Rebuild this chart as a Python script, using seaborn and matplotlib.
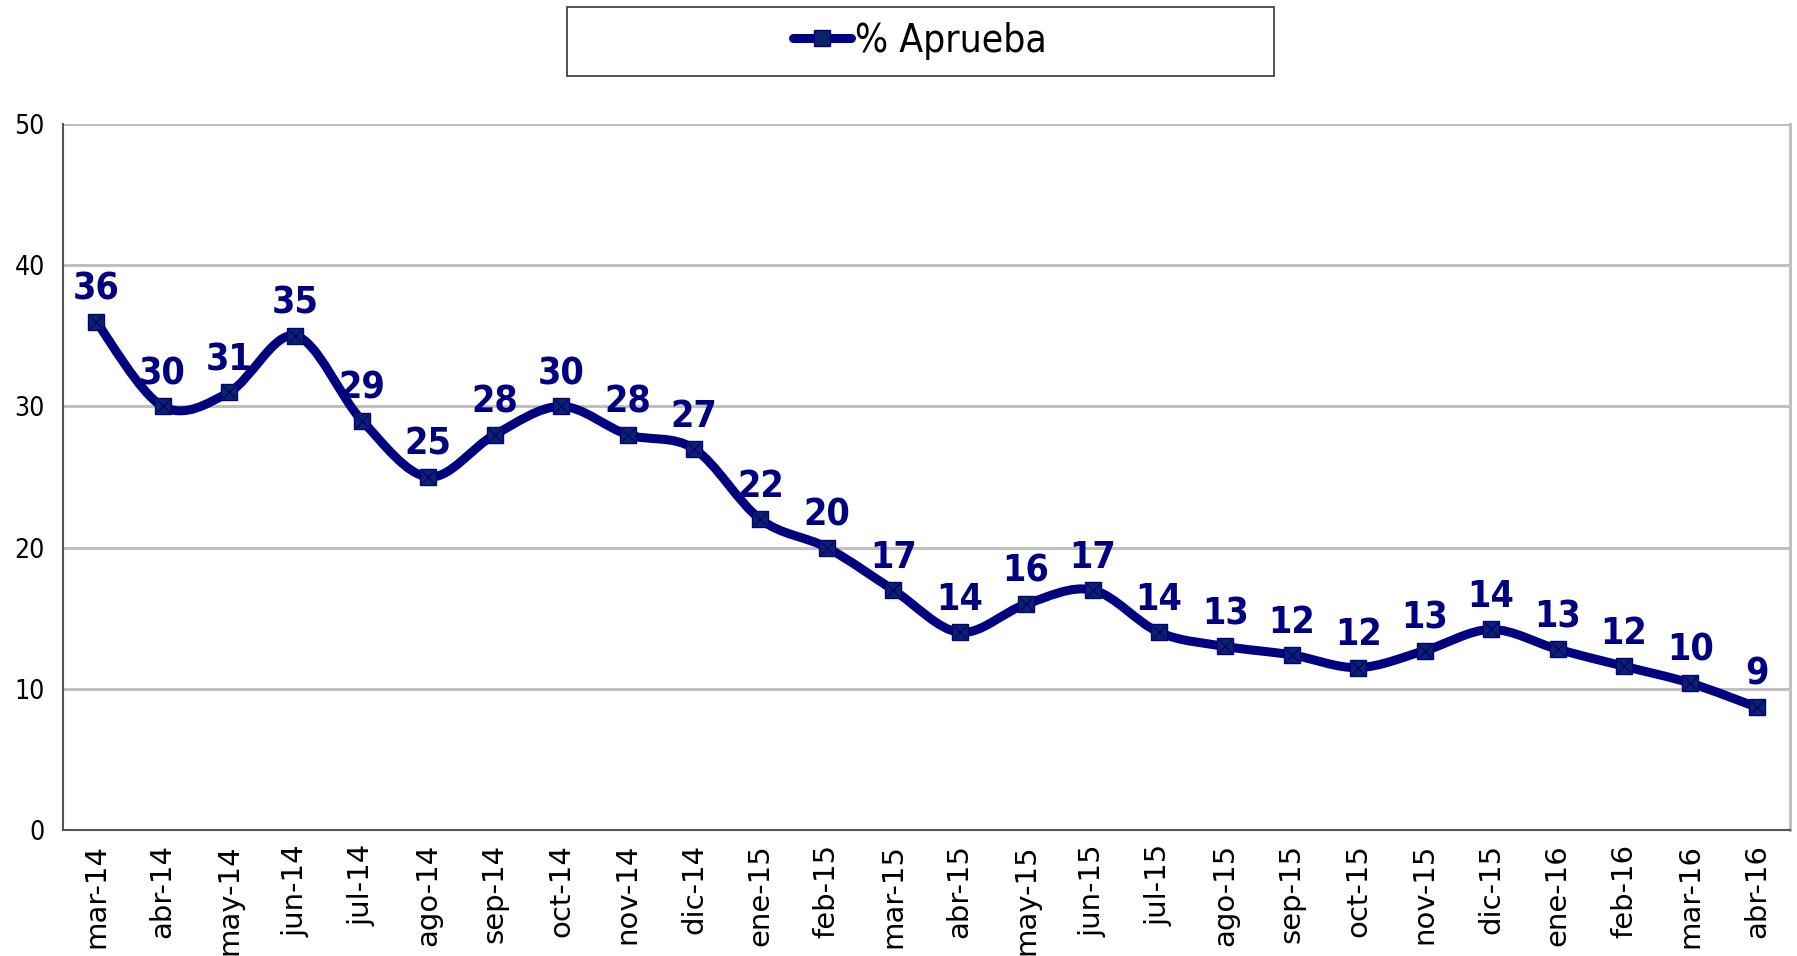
import numpy as np
import pandas as pd
import matplotlib
matplotlib.use("Agg")
import matplotlib.pyplot as plt
from matplotlib.path import Path
from matplotlib.patches import PathPatch, Rectangle
from matplotlib.lines import Line2D
import seaborn as sns

months = ["mar-14", "abr-14", "may-14", "jun-14", "jul-14", "ago-14", "sep-14",
          "oct-14", "nov-14", "dic-14", "ene-15", "feb-15", "mar-15", "abr-15",
          "may-15", "jun-15", "jul-15", "ago-15", "sep-15", "oct-15", "nov-15",
          "dic-15", "ene-16", "feb-16", "mar-16", "abr-16"]
aprueba = [36, 30, 31, 35, 29, 25, 28, 30, 28, 27, 22, 20, 17, 14, 16, 17, 14,
           13, 12.4, 11.5, 12.7, 14.2, 12.8, 11.6, 10.4, 8.7]
series_name = "% Aprueba"
y_ticks = [0, 10, 20, 30, 40, 50]

NAVY = "#000080"
MARK = "#0B2466"

sns.set_style("white")
plt.rcParams["font.family"] = ["DejaVu Sans"]
plt.rcParams["font.stretch"] = "condensed"

df = pd.DataFrame({"x": np.arange(len(months)), "y": aprueba})

fig = plt.figure(figsize=(17.97, 9.56), dpi=100)
ax = fig.add_axes([63 / 1797, 1 - 830 / 956, (1790 - 63) / 1797, (830 - 124) / 956])

# smoothed line (Excel-like Catmull-Rom bezier through the data points)
xs = df["x"].to_numpy(float)
ys = df["y"].to_numpy(float)
n = len(xs)
verts = [(xs[0], ys[0])]
codes = [Path.MOVETO]
for i in range(n - 1):
    p0 = np.array([xs[max(i - 1, 0)], ys[max(i - 1, 0)]])
    p1 = np.array([xs[i], ys[i]])
    p2 = np.array([xs[i + 1], ys[i + 1]])
    p3 = np.array([xs[min(i + 2, n - 1)], ys[min(i + 2, n - 1)]])
    c1 = p1 + (p2 - p0) / 6
    c2 = p2 - (p3 - p1) / 6
    verts += [tuple(c1), tuple(c2), tuple(p2)]
    codes += [Path.CURVE4] * 3
ax.add_patch(PathPatch(Path(verts, codes), facecolor="none", edgecolor=NAVY,
                       lw=6.5, capstyle="round", joinstyle="round", zorder=3))

sns.lineplot(data=df, x="x", y="y", ax=ax, linestyle="", marker="s",
             markersize=11, markerfacecolor=MARK, markeredgecolor=NAVY,
             markeredgewidth=1, zorder=4, legend=False)
ax.plot(df["x"], df["y"], linestyle="", marker="x", markersize=8,
        color=NAVY, markeredgewidth=1, zorder=5)

for xi, yi in zip(xs, ys):
    ax.annotate(f"{yi:.0f}", (xi, yi), xytext=(0, 16), textcoords="offset points",
                ha="center", va="baseline", fontsize=27, fontweight="bold",
                color=NAVY, zorder=6)

ax.set_xlim(-0.5, n - 0.5)
ax.set_ylim(0, 50)
ax.set_yticks(y_ticks)
ax.set_yticklabels([str(t) for t in y_ticks], fontsize=19, color="black")
ax.yaxis.grid(True, color="#C0C0C0", lw=2.2)
ax.set_axisbelow(True)

ax.set_xticks(np.arange(n + 1) - 0.5)
ax.set_xticklabels([])
ax.set_xticks(np.arange(n), minor=True)
ax.set_xticklabels(months, minor=True, rotation=90, fontsize=21, color="black",
                   fontstretch="normal")
ax.tick_params(axis="x", which="major", length=10, width=1.2, color="#404040", direction="out")
ax.tick_params(axis="x", which="minor", length=0, pad=10)
ax.tick_params(axis="y", length=8, width=1.2, color="#404040", direction="out", pad=5)
ax.set_xlabel("")
ax.set_ylabel("")

for side in ["left", "bottom"]:
    ax.spines[side].set_color("#555555")
    ax.spines[side].set_linewidth(1.5)
ax.spines["top"].set_visible(False)
ax.spines["right"].set_color("#C0C0C0")
ax.spines["right"].set_linewidth(2.2)

# legend box
fig.patches.append(Rectangle((567 / 1797, 1 - 76 / 956), 707 / 1797, 69 / 956,
                             transform=fig.transFigure, facecolor="white",
                             edgecolor="#333333", lw=1.2, zorder=0))
handle = Line2D([], [], color=NAVY, lw=6.5, marker="s", markersize=11,
                markerfacecolor=MARK, markeredgecolor=NAVY, solid_capstyle="round")
leg = fig.legend([handle], [series_name], loc="center", bbox_to_anchor=(920 / 1797, 1 - 41 / 956),
                 frameon=False, fontsize=28, handlelength=1.5, handletextpad=0.1,
                 borderpad=0, borderaxespad=0)
for t in leg.get_texts():
    t.set_color("black")

fig.savefig("out.png", dpi=100)
